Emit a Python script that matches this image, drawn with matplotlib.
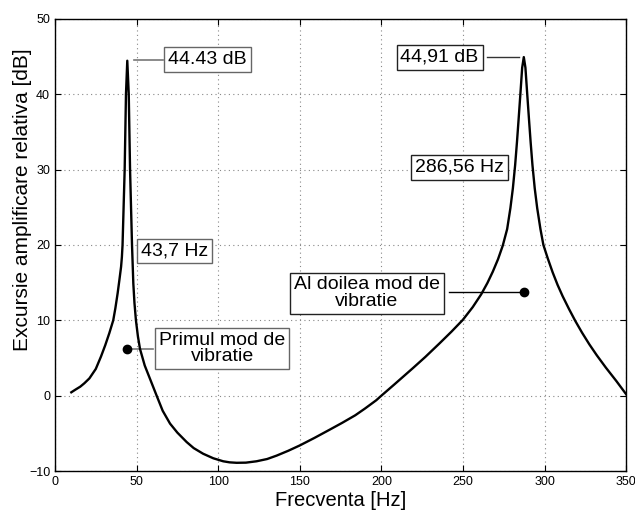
import matplotlib
matplotlib.use("Agg")
import matplotlib.pyplot as plt

plt.rcParams["font.family"] = ["Liberation Sans", "DejaVu Sans"]

# frequency response
freq_hz = [10, 12.5, 15.5, 18, 21.1, 25, 28.2, 30.8, 33.3, 35.7, 37, 38.4, 39.5, 40.5,
           41.0, 41.4, 42.7, 43.5, 44.3, 45.2, 46.0, 47.2, 48.0, 48.7, 49.6, 50.8,
           52.1, 55.0, 58.2, 62.3,
           66, 70.5, 75, 80.7, 85, 90.8, 97, 103.1, 107, 111.3, 117, 123.5, 130,
           135.8, 143, 150.0, 159, 168.4, 176, 184, 190, 196.9, 200, 208, 219.3,
           227, 235.7, 243, 249.9, 256, 261.2, 265, 268.3, 271.5, 274.4, 277.1,
           279.1, 280.6, 282.0, 283.1, 284.1, 285.2, 286.3, 287.3, 288.3, 289.4,
           290.5, 291.5, 292.6, 294, 295.5, 297.5, 299.3, 302, 305.0, 308, 311.1,
           315, 318.9, 323, 327.5, 332, 337.6, 344, 350]
gain_db = [0.45, 0.8, 1.2, 1.65, 2.3, 3.55, 5.2, 6.7, 8.3, 10.0, 11.6, 13.6, 15.4, 17.1,
           18.4, 20.0, 30.0, 40.0, 44.43, 40.0, 30.0, 20.0, 14.9, 12.3, 10.0, 7.9,
           6.2, 4.0, 2.25, 0.0,
           -2.0, -3.7, -4.9, -6.15, -6.95, -7.7, -8.3, -8.7, -8.84, -8.9, -8.88, -8.7, -8.4,
           -7.95, -7.3, -6.6, -5.6, -4.5, -3.6, -2.6, -1.7, -0.6, 0.0, 1.5, 3.65,
           5.15, 6.95, 8.5, 10.05, 11.75, 13.45, 14.95, 16.45, 18.1, 19.9, 22.1,
           24.9, 27.5, 30.6, 33.6, 36.6, 40.0, 43.5, 44.91, 43.5, 40.0,
           36.6, 33.6, 30.6, 27.5, 24.9, 22.1, 20.0, 18.2, 16.35, 14.7, 13.2,
           11.5, 9.9, 8.36, 6.8, 5.37, 3.72, 1.95, 0.2]

mode_freq = [43.9, 287.7]
mode_gain = [6.2, 13.8]

x_ticks = [0, 50, 100, 150, 200, 250, 300, 350]
y_ticks = [-10, 0, 10, 20, 30, 40, 50]

fig = plt.figure(figsize=(6.35, 5.13), dpi=100)
ax = fig.add_axes([0.0866, 0.0817, 0.8994, 0.8818])

ax.plot(freq_hz, gain_db, color="black", linewidth=1.7, zorder=3)
ax.plot(mode_freq, mode_gain, "o", color="black", markersize=6, zorder=4)

ax.set_xlim(0, 350)
ax.set_ylim(-10, 50)
ax.set_xticks(x_ticks)
ax.set_yticks(y_ticks)
ax.tick_params(direction="in", length=4, top=True, right=True, labelsize=9)
ax.grid(True, linestyle=(0, (1, 3)), color="#888888", linewidth=0.8)
for s in ax.spines.values():
    s.set_linewidth(1.0)

ax.set_xlabel("Frecventa [Hz]", fontsize=14.5, labelpad=2)
fig.text(0.035, 0.61, "Excursie amplificare relativa [dB]", fontsize=15,
         rotation=90, ha="center", va="center")

gray_box = dict(boxstyle="square,pad=0.2", facecolor="white", edgecolor="#666666", linewidth=1.0)
dark_box = dict(boxstyle="square,pad=0.2", facecolor="white", edgecolor="#222222", linewidth=1.0)
fs = 14

# leader lines
ax.plot([48.4, 66.2], [44.5, 44.5], color="#777777", linewidth=1.2, zorder=2)
ax.plot([264.6, 284.6], [44.9, 44.9], color="#333333", linewidth=1.0, zorder=2)
ax.plot([43.9, 60.0], [6.2, 6.2], color="#777777", linewidth=1.2, zorder=2)
ax.plot([241.4, 287.7], [13.8, 13.8], color="black", linewidth=1.0, zorder=2)

ax.text(93.4, 44.6, "44.43 dB", fontsize=fs, ha="center", va="center", bbox=gray_box, zorder=5)
ax.text(73.5, 19.2, "43,7 Hz", fontsize=fs, ha="center", va="center", bbox=gray_box, zorder=5)
ax.text(235.7, 44.9, "44,91 dB", fontsize=fs, ha="center", va="center", bbox=dark_box, zorder=5)
ax.text(247.7, 30.3, "286,56 Hz", fontsize=fs, ha="center", va="center", bbox=dark_box, zorder=5)
ax.text(191.0, 13.6, "Al doilea mod de\nvibratie", fontsize=fs, ha="center", va="center",
        linespacing=0.95, bbox=dark_box, zorder=5)
ax.text(102.5, 6.26, "Primul mod de\nvibratie", fontsize=fs, ha="center", va="center",
        linespacing=0.95, bbox=gray_box, zorder=5)

fig.savefig("out.png", dpi=100)
